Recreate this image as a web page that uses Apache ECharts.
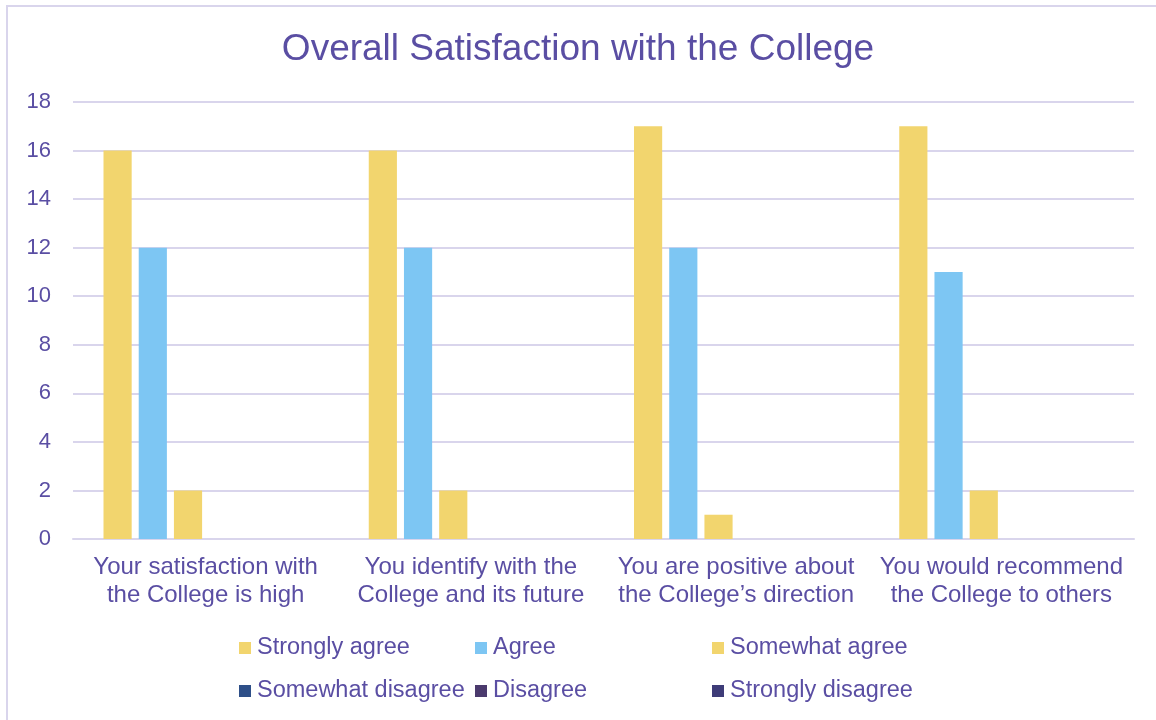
<!DOCTYPE html>
<html><head><meta charset="utf-8">
<script src="https://cdn.jsdelivr.net/npm/echarts@6/dist/echarts.min.js"></script>
<style>html,body{margin:0;padding:0;background:#fff}#c{width:1156px;height:720px}</style>
</head><body><div id="c"></div>
<script>
const categories = ["Your satisfaction with\nthe College is high","You identify with the\nCollege and its future","You are positive about\nthe College\u2019s direction","You would recommend\nthe College to others"];
const seriesNames = ["Strongly agree","Agree","Somewhat agree","Somewhat disagree","Disagree","Strongly disagree"];
const stronglyAgree = [16,16,17,17];
const agree = [12,12,12,11];
const somewhatAgree = [2,2,1,2];
const somewhatDisagree = [0,0,0,0];
const disagree = [0,0,0,0];
const stronglyDisagree = [0,0,0,0];
const yTicks = [0,2,4,6,8,10,12,14,16,18];

const values = [stronglyAgree, agree, somewhatAgree, somewhatDisagree, disagree, stronglyDisagree];
const colors = ["#F2D56E","#7DC6F3","#F2D56E","#2E4F88","#4B3A6D","#3E3C78"];
const txt = "#5A4EA3";
const font = "Liberation Sans, Arial, sans-serif";

const chart = echarts.init(document.getElementById('c'));
const legendBase = {orient:'vertical', itemWidth:12, itemHeight:12, itemGap:19, icon:'rect',
  textStyle:{color:txt, fontSize:23.5, fontFamily:font, padding:[0,0,0,1]}, top:631};
chart.setOption({
  backgroundColor:'#fff',
  animation:false,
  color: colors,
  title:{text:'Overall Satisfaction with the College', left:'center', top:26,
    textStyle:{color:txt, fontSize:37, fontWeight:'normal', fontFamily:font}},
  grid:{left:73, right:22, top:102, bottom:181, containLabel:false},
  legend:[
    Object.assign({}, legendBase, {left:234, data:[seriesNames[0], seriesNames[3]]}),
    Object.assign({}, legendBase, {left:470, data:[seriesNames[1], seriesNames[4]]}),
    Object.assign({}, legendBase, {left:707, data:[seriesNames[2], seriesNames[5]]})
  ],
  xAxis:{type:'category', data:categories,
    axisLine:{lineStyle:{color:'#D9D5EC', width:2}}, axisTick:{show:false},
    axisLabel:{color:txt, fontSize:24, fontFamily:font, lineHeight:28, margin:14, interval:0}},
  yAxis:{type:'value', min:0, max:18, interval:2,
    axisLine:{show:false}, axisTick:{show:false},
    splitLine:{lineStyle:{color:'#D9D5EC', width:2}},
    axisLabel:{color:txt, fontSize:22, fontFamily:font, margin:22,
      formatter:v=>yTicks.includes(v)?String(v):''}},
  graphic:[{type:'rect', shape:{x:7,y:6,width:1200,height:760},
    style:{fill:'none', stroke:'#D9D5EC', lineWidth:2}, silent:true}],
  series: seriesNames.map((n,i)=>({name:n, type:'bar', data:values[i],
    barGap:'25%', barCategoryGap:'23%', itemStyle:{color:colors[i]}}))
});
</script></body></html>
